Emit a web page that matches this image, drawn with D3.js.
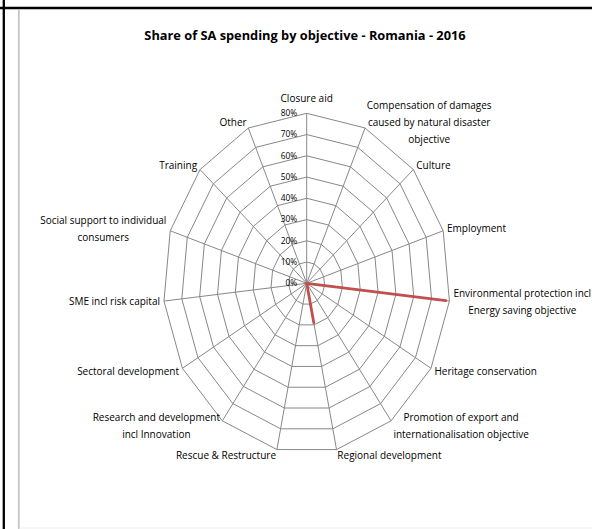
<!DOCTYPE html>
<html>
<head>
<meta charset="utf-8">
<script src="https://cdn.jsdelivr.net/npm/d3@7"></script>
<style>
  body { margin: 0; background: #fff; }
  svg { display: block; font-family: "Open Sans", sans-serif; }
</style>
</head>
<body>
<svg id="chart" width="592" height="529"></svg>
<script>
var title = 'Share of SA spending by objective - Romania - 2016';

var categories = [
  'Closure aid',
  'Compensation of damages\ncaused by natural disaster\nobjective',
  'Culture',
  'Employment',
  'Environmental protection incl\nEnergy saving objective',
  'Heritage conservation',
  'Promotion of export and\ninternationalisation objective',
  'Regional development',
  'Rescue & Restructure',
  'Research and development\nincl Innovation',
  'Sectoral development',
  'SME incl risk capital',
  'Social support to individual\nconsumers',
  'Training',
  'Other'
];

var shares = [0, 0, 0, 0, 0.78, 0, 0, 0.19, 0, 0, 0, 0, 0, 0, 0];

var tickValues = [0, 0.1, 0.2, 0.3, 0.4, 0.5, 0.6, 0.7, 0.8];

var width = 592;
var height = 529;
var cx = 306.7;
var cy = 283.3;

var svg = d3.select('#chart');

// frame
svg.append('rect').attr('x', 0).attr('y', 0).attr('width', width).attr('height', height).attr('fill', '#fff');
svg.append('line').attr('x1', 0).attr('x2', width).attr('y1', 8).attr('y2', 8)
  .attr('stroke', '#000').attr('stroke-width', 2.3);
svg.append('line').attr('x1', 3.8).attr('x2', 3.8).attr('y1', 0).attr('y2', height)
  .attr('stroke', '#000').attr('stroke-width', 2.3);
svg.append('line').attr('x1', 18.8).attr('x2', 18.8).attr('y1', 10).attr('y2', height)
  .attr('stroke', '#c4c4c4').attr('stroke-width', 1.8);
svg.append('line').attr('x1', 19).attr('x2', width).attr('y1', 528).attr('y2', 528)
  .attr('stroke', '#eeeeee').attr('stroke-width', 1);

svg.append('text')
  .attr('x', 305)
  .attr('y', 39.5)
  .attr('text-anchor', 'middle')
  .attr('font-weight', 'bold')
  .attr('font-size', '12.8px')
  .attr('fill', '#000')
  .text(title);

// the plot is stretched vertically, so two radial scales
var rx = d3.scaleLinear().domain([0, 0.8]).range([0, 143.5]);
var ry = d3.scaleLinear().domain([0, 0.8]).range([0, 170]);
var angle = d3.scaleLinear().domain([0, categories.length]).range([0, 2 * Math.PI]);

function px(i, v) { return cx + rx(v) * Math.sin(angle(i)); }
function py(i, v) { return cy - ry(v) * Math.cos(angle(i)); }

var grid = svg.append('g').attr('class', 'grid')
  .attr('fill', 'none').attr('stroke', '#888').attr('stroke-width', 1);

tickValues.slice(1).forEach(function(t) {
  grid.append('polygon')
    .attr('points', categories.map(function(c, i) {
      return px(i, t) + ',' + py(i, t);
    }).join(' '));
});

grid.selectAll('line')
  .data(categories)
  .enter()
  .append('line')
  .attr('x1', cx).attr('y1', cy)
  .attr('x2', function(d, i) { return px(i, 0.8); })
  .attr('y2', function(d, i) { return py(i, 0.8); });

// tick labels
svg.append('g').selectAll('text')
  .data(tickValues)
  .enter()
  .append('text')
  .attr('x', cx - 9.5)
  .attr('y', function(d) { return py(0, d); })
  .attr('dy', '0.35em')
  .attr('text-anchor', 'end')
  .attr('font-size', '8.4px')
  .attr('fill', '#000')
  .text(function(d) { return d3.format('.0%')(d); });

// series
var line = d3.line()
  .x(function(d, i) { return px(i, d); })
  .y(function(d, i) { return py(i, d); })
  .curve(d3.curveLinearClosed);

svg.append('path')
  .datum(shares)
  .attr('d', line)
  .attr('fill', 'none')
  .attr('stroke', '#C0504D')
  .attr('stroke-width', 2.8)
  .attr('stroke-linejoin', 'round');

// category labels
var lineH = 17;
var labels = svg.append('g').attr('font-size', '10px').attr('fill', '#000');

categories.forEach(function(c, i) {
  var a = angle(i);
  var s = Math.sin(a), co = Math.cos(a);
  var vx = px(i, 0.8), vy = py(i, 0.8);
  var lines = c.split('\n');
  var g = labels.append('g');
  var texts = lines.map(function(l) {
    return g.append('text').attr('text-anchor', 'middle').attr('dy', '0.35em').text(l);
  });
  var w = d3.max(texts, function(t) { return t.node().getComputedTextLength(); });
  var midX, midY;
  if (Math.abs(s) < 0.01) {
    midX = vx;
    midY = vy - 15;
  } else if (s > 0) {
    midX = vx + 4 * s + w / 2;
    midY = vy - 6.5 * co;
  } else {
    midX = vx + 4 * s - w / 2;
    midY = vy - 6.5 * co;
  }
  texts.forEach(function(t, k) {
    t.attr('x', midX).attr('y', midY + (k - (lines.length - 1) / 2) * lineH);
  });
});
</script>
</body>
</html>
